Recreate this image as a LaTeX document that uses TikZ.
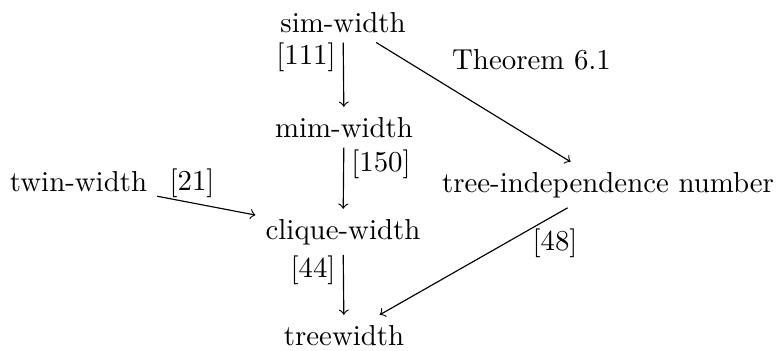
\documentclass[tikz,border=0pt]{standalone}
\begin{document}
\begin{tikzpicture}[x=0.3466pt,y=-0.3466pt,
  vert/.style={anchor=base},
  lbl/.style={anchor=center,inner sep=0pt},
  arr/.style={->}]
\useasboundingbox (0,0) rectangle (777,350);
\node[vert] (sim) at (343,32) {sim-width};
\node[vert] (mim) at (344,137) {mim-width};
\node[vert] (clique) at (343,239) {clique-width};
\node[vert] (tree) at (344,345) {treewidth};
\node[vert] (twin) at (78.5,191) {twin-width};
\node[vert] (tin) at (608,192) {tree-independence number};
\node[lbl] (l111) at (306,57) {[111]};
\node[lbl] (l150) at (381,164) {[150]};
\node[lbl] (l21) at (192,183) {[21]};
\node[lbl] (l44) at (313,270) {[44]};
\node[lbl] (l48) at (555,243) {[48]};
\node[anchor=base,inner sep=0pt] (thm) at (531.5,69) {Theorem 6.1};
\draw[arr] (sim) -- (mim);
\draw[arr] (mim) -- (clique);
\draw[arr] (clique) -- (tree);
\draw[arr] (twin) -- (clique);
\draw[arr] (sim) -- (tin);
\draw[arr] (tin) -- (tree);
\end{tikzpicture}
\end{document}
